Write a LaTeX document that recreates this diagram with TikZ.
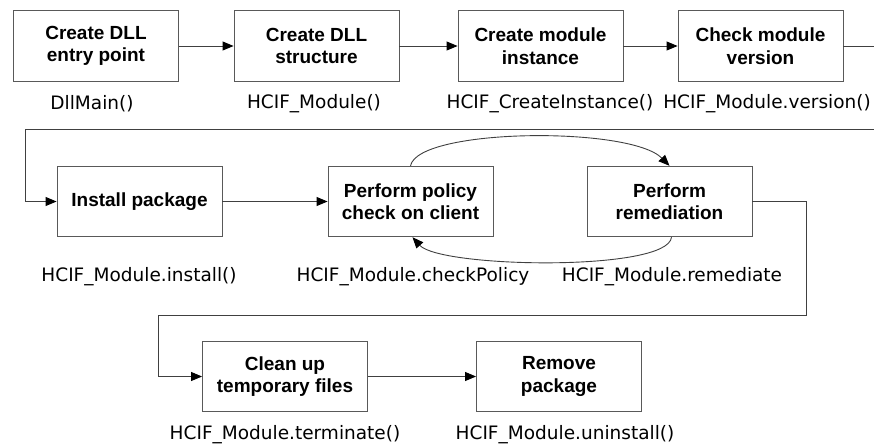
\documentclass[tikz,border=0pt]{standalone}
\usepackage{fontspec}
\setmainfont{Liberation Sans}
\newfontfamily\lblfont{DejaVu Sans}
\usetikzlibrary{arrows.meta}
\begin{document}
\begin{tikzpicture}[x=1pt,y=-1pt,
  stepbox/.style={draw=black!65, line width=0.9pt, minimum width=165pt, minimum height=70.5pt,
    inner sep=0pt, align=center, font=\fontsize{19}{22.5}\selectfont\bfseries},
  lbl/.style={inner sep=0pt, font=\lblfont\fontsize{18.5}{22}\selectfont},
  conn/.style={draw=black!75, line width=0.9pt},
  arr/.style={conn, -{Triangle[length=11pt,width=9pt,color=black]}}]
\useasboundingbox (0,0) rectangle (874,447);
% row 1
\node[stepbox] (b1) at (96,46) {Create DLL\\entry point};
\node[stepbox] (b2) at (316.5,46) {Create DLL\\structure};
\node[stepbox] (b3) at (540.5,46) {Create module\\instance};
\node[stepbox] (b4) at (760.5,46) {Check module\\version};
\node[lbl] (l1) at (92,104) {DllMain()};
\node[lbl] (l2) at (314,104) {HCIF\_Module()};
\node[lbl] (l3) at (550,104) {HCIF\_CreateInstance()};
\node[lbl] (l4) at (767,104) {HCIF\_Module.version()};
% row 2
\node[stepbox] (b5) at (139.5,201.5) {Install package};
\node[stepbox] (b6) at (410.5,201.5) {Perform policy\\check on client};
\node[stepbox] (b7) at (669.5,201.5) {Perform\\remediation};
\node[lbl] (l5) at (139,277) {HCIF\_Module.install()};
\node[lbl] (l6) at (413,277) {HCIF\_Module.checkPolicy};
\node[lbl] (l7) at (672,277) {HCIF\_Module.remediate};
% row 3
\node[stepbox] (b8) at (285,376.5) {Clean up\\temporary files};
\node[stepbox] (b9) at (559,376.5) {Remove\\package};
\node[lbl] (l8) at (285,435) {HCIF\_Module.terminate()};
\node[lbl] (l9) at (565,435) {HCIF\_Module.uninstall()};
% connectors
\coordinate (e1) at (874,46);
\coordinate (e2) at (874,129);
\coordinate (k1) at (25,129);
\coordinate (k2) at (806,315);
\coordinate (k3) at (158,315);
\draw[arr] (b1) -- (b2);
\draw[arr] (b2) -- (b3);
\draw[arr] (b3) -- (b4);
\draw[conn] (b4.east) -- (e1);
\draw[arr] (e2) -- (k1) |- (b5.west);
\draw[arr] (b5) -- (b6);
\draw[arr] (b6.north) .. controls (418,128) and (630,126) .. (b7.north);
\draw[arr] ([xshift=2pt]b7.south) .. controls (668,272) and (440,268) .. ([xshift=2pt]b6.south);
\draw[arr] (b7.east) -| (k2) -- (k3) |- (b8.west);
\draw[arr] (b8) -- (b9);
\end{tikzpicture}
\end{document}
